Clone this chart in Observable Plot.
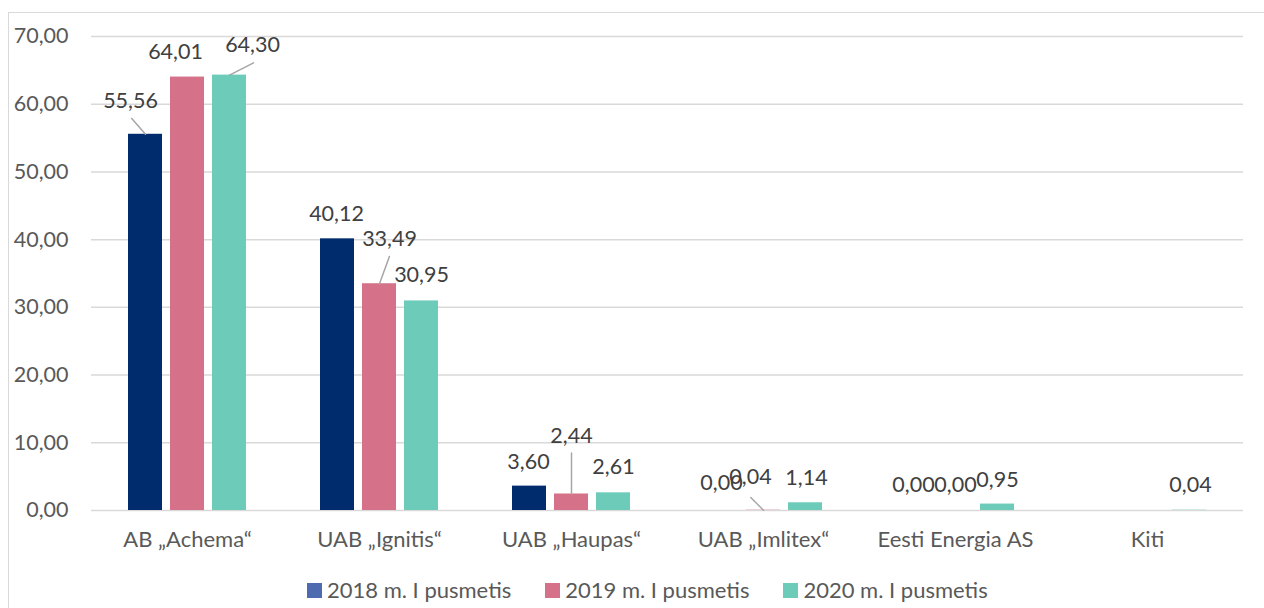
<!DOCTYPE html>
<html>
<head>
<meta charset="utf-8">
<script src="https://cdn.jsdelivr.net/npm/d3@7"></script>
<script src="https://cdn.jsdelivr.net/npm/@observablehq/plot@0.6"></script>
<style>
  html, body { margin: 0; padding: 0; background: #fff; width: 1264px; height: 608px; overflow: hidden; }
  #frame { position: absolute; left: 8px; top: 12px; width: 1400px; height: 800px; border: 1px solid #d9d9d9; box-sizing: border-box; }
  #chart { position: absolute; left: 0; top: 0; }
  #legend { position: absolute; left: 307px; top: 578px; display: flex; gap: 34px; font-family: Lato, sans-serif; font-size: 22px; color: #595959; line-height: 24px; }
  #legend .item { display: flex; align-items: center; gap: 5px; }
  #legend .sw { width: 15px; height: 15px; display: inline-block; }
</style>
</head>
<body>
<div id="frame"></div>
<div id="chart"></div>
<div id="legend"></div>
<script>
const companies = ["AB „Achema“", "UAB „Ignitis“", "UAB „Haupas“", "UAB „Imlitex“", "Eesti Energia AS", "Kiti"];
const years = ["2018 m. I pusmetis", "2019 m. I pusmetis", "2020 m. I pusmetis"];
const v2018 = [55.56, 40.12, 3.60, 0.00, 0.00, null];
const v2019 = [64.01, 33.49, 2.44, 0.04, 0.00, null];
const v2020 = [64.30, 30.95, 2.61, 1.14, 0.95, 0.04];
const yTicks = [0, 10, 20, 30, 40, 50, 60, 70];

const barColors = ["#002c6e", "#d5728a", "#6ccbb9"];
const legendColors = ["#4f6bb0", "#d5728a", "#6ccbb9"];

const series = [v2018, v2019, v2020];
const data = [];
companies.forEach((c, i) => years.forEach((y, j) => {
  if (series[j][i] != null) data.push({company: c, year: y, value: series[j][i]});
}));

const fmt = v => v.toFixed(2).replace(".", ",");

// label placement (pixel offsets from bar top), mimicking manually moved labels
const labelOffset = {
  "0|0": [-15, -33], "0|1": [-12, -25], "0|2": [23, -30],
  "1|0": [-1, -25], "1|1": [10, -45], "1|2": [0, -26],
  "2|0": [-1, -24], "2|1": [0, -58], "2|2": [0, -26],
  "3|0": [0, -27], "3|1": [-13, -33], "3|2": [1, -25],
  "4|0": [0, -25], "4|1": [0, -25], "4|2": [0, -24],
  "5|2": [1, -25]
};
const key = d => companies.indexOf(d.company) + "|" + years.indexOf(d.year);
data.forEach(d => { const o = labelOffset[key(d)] || [0, -25]; d.dx = o[0]; d.dy = o[1]; });

// leader lines: [company index, year index, length px, angle deg]
const leaders = [[0, 0, 21, -41], [0, 2, 27, 63], [1, 1, 29, 20], [2, 1, 41, 0], [3, 1, 18, -45]];
const lineShape = {draw(ctx, l) { ctx.moveTo(0, 0); ctx.lineTo(0, -l); }};

const labelMarks = data.map(d => Plot.text([d], {
  fx: "company", x: "year", y: "value", text: d => fmt(d.value),
  dx: d.dx, dy: d.dy, fill: "#404040", fontSize: 21.5, lineAnchor: "middle"
}));

const leaderMarks = leaders.map(([ci, yi, len, ang]) => Plot.vector(
  [{company: companies[ci], year: years[yi], value: series[yi][ci]}],
  {fx: "company", x: "year", y: "value", length: len, rotate: ang, anchor: "start",
   shape: lineShape, stroke: "#a6a6a6", strokeWidth: 1.5}
));

const chart = Plot.plot({
  width: 1264,
  height: 566,
  marginLeft: 91,
  marginRight: 21,
  marginTop: 36,
  marginBottom: 56,
  style: {fontFamily: "Lato, sans-serif", fontSize: "21px", color: "#595959", background: "transparent"},
  fx: {domain: companies, padding: 0, label: null},
  x: {domain: years, axis: null, paddingInner: 0.19, paddingOuter: 0.88},
  y: {domain: [0, 70]},
  color: {domain: years, range: barColors},
  marks: [
    Plot.gridY(yTicks, {stroke: "#d9d9d9", strokeOpacity: 1, strokeWidth: 1.5}),
    Plot.axisY(yTicks, {tickSize: 0, tickPadding: 23, tickFormat: fmt, label: null, fill: "#595959", fontSize: 21.5}),
    Plot.axisFx({anchor: "bottom", tickSize: 0, tickPadding: 21, label: null, fill: "#595959", fontSize: 22}),
    Plot.barY(data, {fx: "company", x: "year", y: "value", fill: "year"}),
    ...leaderMarks,
    ...labelMarks
  ]
});
document.getElementById("chart").appendChild(chart);

const legend = document.getElementById("legend");
years.forEach((y, i) => {
  const item = document.createElement("div");
  item.className = "item";
  const sw = document.createElement("span");
  sw.className = "sw";
  sw.style.background = legendColors[i];
  const t = document.createElement("span");
  t.textContent = y;
  item.appendChild(sw);
  item.appendChild(t);
  legend.appendChild(item);
});
</script>
</body>
</html>
